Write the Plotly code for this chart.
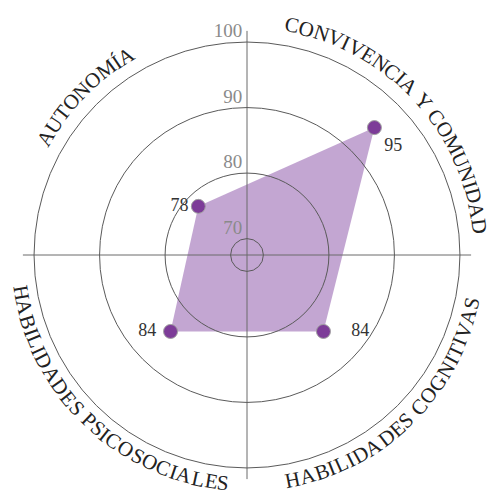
import math
import plotly.graph_objects as go

# categorías y valores
categorias = ["CONVIVENCIA Y COMUNIDAD", "AUTONOMÍA", "HABILIDADES PSICOSOCIALES", "HABILIDADES COGNITIVAS"]
valores = [95, 78, 84, 84]
etiquetas_valor = ["95", "78", "84\u00a0", "\u00a0\u00a0\u00a0\u00a084"]
pos_valor = ["bottom right", "middle left", "middle left", "middle right"]

ticks_radiales = [70, 80, 90, 100]
rango_radial = [67.5, 101.7]

# la página html deja 8px de margen en el body
W, H = 488, 492
CX, CY = 239, 247  # centro del gráfico en px (coordenadas de la figura)
R_MAX = 224.1      # radio de rango_radial[1] en px

dom_x = [(CX - R_MAX) / W, (CX + R_MAX) / W]
dom_y = [(H - CY - R_MAX) / H, (H - CY + R_MAX) / H]

FONT = "Liberation Serif"

fig = go.Figure()

# área y puntos
fig.add_trace(go.Scatterpolar(
    r=valores, theta=categorias, subplot="polar",
    mode="lines+markers+text", fill="toself",
    fillcolor="rgba(130,70,160,0.48)",
    line=dict(color="rgba(0,0,0,0)", width=0),
    marker=dict(size=14, color="#7d3c98", line=dict(color="#a0a0a0", width=1)),
    text=etiquetas_valor, textposition=pos_valor,
    textfont=dict(family=FONT, size=18, color="#333333"),
    hoverinfo="skip", showlegend=False,
))

# etiquetas de los anillos (eje vertical)
fig.add_trace(go.Scatterpolar(
    r=ticks_radiales, theta=[90] * len(ticks_radiales), subplot="polar2",
    mode="text", text=[str(t) + "\u00a0" for t in ticks_radiales], textposition="top left",
    textfont=dict(family=FONT, size=19, color="#8a8a8a"),
    hoverinfo="skip", showlegend=False,
))

ejes_ocultos = dict(showticklabels=False, showline=False, ticks="")

fig.update_layout(
    width=W, height=H,
    margin=dict(l=0, r=0, t=0, b=0),
    paper_bgcolor="white",
    polar=dict(
        domain=dict(x=dom_x, y=dom_y), bgcolor="rgba(0,0,0,0)",
        radialaxis=dict(range=rango_radial, showgrid=False, **ejes_ocultos),
        angularaxis=dict(type="category", categoryarray=categorias, rotation=45,
                         direction="counterclockwise", showgrid=False, **ejes_ocultos),
    ),
    polar2=dict(
        domain=dict(x=dom_x, y=dom_y), bgcolor="rgba(0,0,0,0)",
        radialaxis=dict(range=rango_radial, tickvals=ticks_radiales, showgrid=True,
                        gridcolor="#5a5a5a", gridwidth=1, **ejes_ocultos),
        angularaxis=dict(type="linear", thetaunit="degrees", tickvals=[0, 90, 180, 270],
                         rotation=0, direction="counterclockwise",
                         showgrid=True, gridcolor="#6a6a6a", gridwidth=1, **ejes_ocultos),
    ),
)

# anchos aproximados (Times) para repartir las letras sobre el arco
ANCHOS = {"A": 722, "B": 667, "C": 667, "D": 722, "E": 611, "G": 722, "H": 722, "I": 333,
          "Í": 333, "L": 611, "M": 889, "N": 722, "O": 722, "P": 556, "S": 556, "T": 611,
          "U": 722, "V": 722, "Y": 722, " ": 250}
FS = 21
ESP = 1.02

def texto_curvo(s, ang0, radio, arriba):
    anchos = [ANCHOS.get(c, 650) / 1000 * FS * ESP for c in s]
    total = sum(anchos)
    acc = 0
    for c, w in zip(s, anchos):
        centro = acc + w / 2
        acc += w
        if c == " ":
            continue
        d = math.degrees((total / 2 - centro) / radio)
        phi = ang0 + d if arriba else ang0 - d
        px = CX + radio * math.cos(math.radians(phi))
        py = CY - radio * math.sin(math.radians(phi))
        fig.add_annotation(
            x=px / W, y=1 - py / H, xref="paper", yref="paper",
            text=c, showarrow=False, xanchor="center", yanchor="middle",
            textangle=(90 - phi) if arriba else (270 - phi),
            font=dict(family=FONT, size=FS, color="#222222"),
        )

texto_curvo(categorias[0], 43, 234, True)
texto_curvo(categorias[1], 135.5, 233, True)
texto_curvo(categorias[2], 226.5, 229, False)
texto_curvo(categorias[3], 314.5, 229.5, False)

fig.write_html("out.html")
